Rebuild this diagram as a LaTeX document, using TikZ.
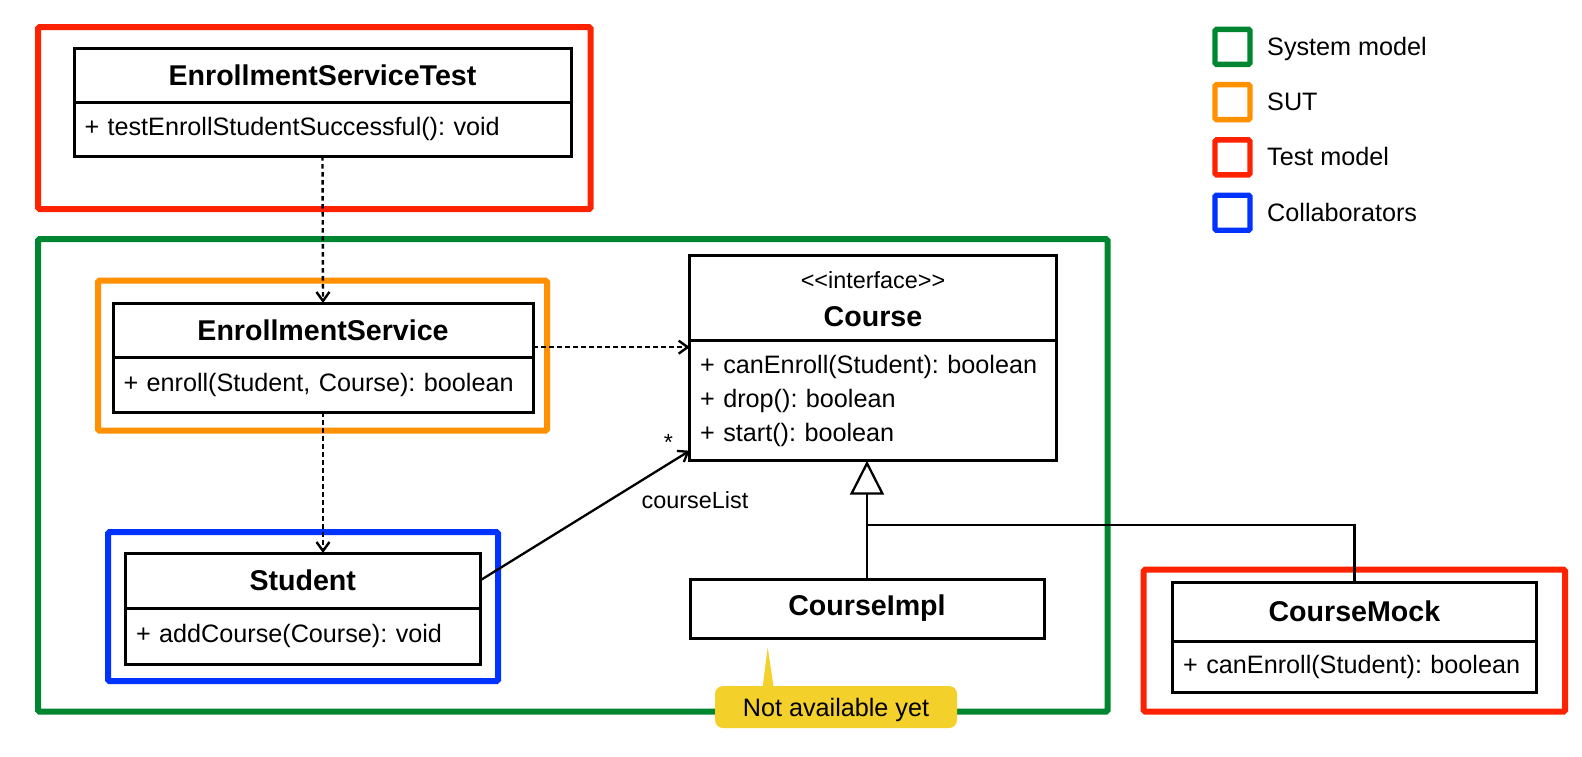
\documentclass[tikz,border=0pt]{standalone}
\usepackage{fontspec}
\setmainfont{Liberation Sans}
\usetikzlibrary{arrows.meta}
\definecolor{frameRed}{HTML}{FF2200}
\definecolor{frameGreen}{HTML}{008530}
\definecolor{frameOrange}{HTML}{FF9100}
\definecolor{frameBlue}{HTML}{0033FF}
\definecolor{noteYellow}{HTML}{F4D02B}
\newcommand{\regsize}{\fontsize{25.2}{34}\selectfont}
\newcommand{\boldsize}{\fontsize{28.6}{38}\selectfont\bfseries}
\newcommand{\lblsize}{\fontsize{23.4}{38}\selectfont}
\frenchspacing
\begin{document}
\begin{tikzpicture}[x=1pt,y=-1pt,
    classbox/.style={draw,line width=3pt,fill=white,inner sep=0pt,outer sep=0pt},
    ctitle/.style={classbox,font=\boldsize,align=center},
    cmembers/.style={classbox,font=\regsize,align=left,anchor=north,inner xsep=10.5pt},
    frame/.style={line width=6pt,rounded corners=1.5pt},
    dep/.style={line width=2.4pt,dash pattern=on 4.5pt off 3.5pt,-{Straight Barb[length=9pt,width=13pt]}},
    assoc/.style={line width=2.3pt,-{Straight Barb[length=9pt,width=13pt]}},
    gen/.style={line width=2.3pt,-{Triangle[length=34pt,width=34pt,fill=white]}}]
    \useasboundingbox (0,0) rectangle (1582,756);
    % frames
    \draw[frame,frameGreen] (38,239) rectangle (1107.5,711.5);
    \draw[frame,frameRed] (38,27) rectangle (590.5,209);
    \draw[frame,frameOrange] (98,280.5) rectangle (547,430.5);
    \draw[frame,frameBlue] (108,532) rectangle (498,681);
    \draw[frame,frameRed] (1143.7,569.7) rectangle (1565,711.7);
    % classes
    \node[ctitle,minimum width=497pt,minimum height=54pt] (est) at (322.5,75) {EnrollmentServiceTest};
    \node[cmembers,text width=476pt,minimum height=54pt] (est_m) at (est.south) {+ testEnrollStudentSuccessful(): void};
    \node[ctitle,minimum width=420pt,minimum height=54.3pt] (es) at (323,330.15) {EnrollmentService};
    \node[cmembers,text width=399pt,minimum height=55pt] (es_m) at (es.south) {+ enroll(Student, Course): boolean};
    \node[ctitle,minimum width=354.5pt,minimum height=55pt] (stu) at (302.75,580.5) {Student};
    \node[cmembers,text width=333.5pt,minimum height=56.5pt] (stu_m) at (stu.south) {+ addCourse(Course): void};
    \node[ctitle,minimum width=366.6pt,minimum height=86pt] (course) at (873,298.7) {{\mdseries\lblsize <{}<interface>{}>}\\Course};
    \node[cmembers,text width=345.6pt,minimum height=120pt] (course_m) at ([yshift=1pt]course.south) {+ canEnroll(Student): boolean\\+ drop(): boolean\\+ start(): boolean};
    \node[ctitle,minimum width=354pt,minimum height=59pt] (impl) at (867,608.5) {CourseImpl};
    \node[ctitle,minimum width=363.3pt,minimum height=59.3pt] (mock) at (1354.35,611.65) {CourseMock};
    \node[cmembers,text width=342.3pt,minimum height=50.7pt] (mock_m) at (mock.south) {+ canEnroll(Student): boolean};
    % connectors
    \path (est_m.south) edge[dep] (es.north);
    \path ([yshift=-17pt]es.east) edge[dep] ([yshift=-17pt]es.east -| course_m.west);
    \path (es_m.south) edge[dep] (es_m.south |- stu.north);
    \path (stu.east) edge[assoc] ([yshift=10pt]course_m.south west);
    \node[font=\lblsize,inner sep=0pt] (mult) at (668.3,442) {*};
    \node[font=\lblsize,inner sep=0pt] (role) at (695,500) {courseList};
    \coordinate (genJoint) at (867,524.7);
    \path (impl.north) edge[gen] (impl.north |- course_m.south);
    \draw[line width=2.3pt] (genJoint) -| (mock.north);
    % note
    \coordinate (noteTip) at (767.7,647.3);
    \node[fill=noteYellow,rounded corners=8pt,minimum width=242pt,minimum height=42pt,inner sep=0pt,text depth=0pt,font=\regsize] (note) at (836,707) {Not available yet};
    \fill[noteYellow] ([xshift=-73.7pt,yshift=-4pt]note.north) -- (noteTip) -- ([xshift=-62pt,yshift=-4pt]note.north) -- cycle;
    % legend
    \foreach \col/\txt [count=\i] in {frameGreen/System model,frameOrange/SUT,frameRed/Test model,frameBlue/Collaborators} {
      \node[draw=\col,line width=5.4pt,minimum size=35pt,inner sep=0pt,outer sep=0pt,rounded corners=1.5pt] (key\i) at (1232.5,{46.8+55.3*(\i-1)}) {};
      \node[font=\regsize,anchor=base west,inner sep=0pt] (key\i_txt) at (1267,{55.3+55.3*(\i-1)}) {\txt};
    }
  \end{tikzpicture}
\end{document}
